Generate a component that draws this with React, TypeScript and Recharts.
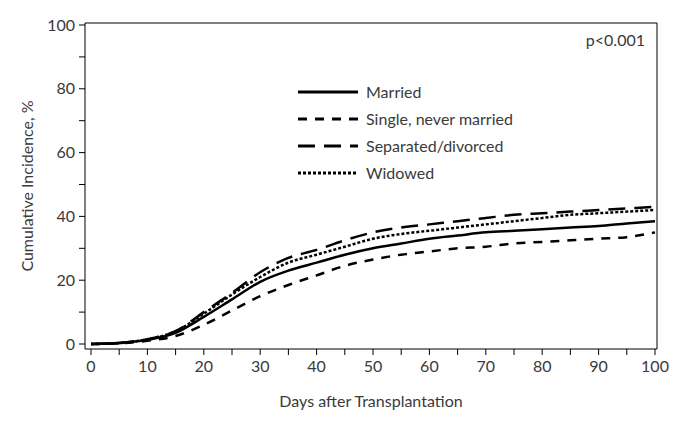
import { LineChart, Line, XAxis, YAxis, Legend, Label } from "recharts"

const days = [0, 5, 10, 15, 20, 25, 30, 35, 40, 45, 50, 55, 60, 65, 70, 75, 80, 85, 90, 95, 100]
const married = [0, 0.3, 1.3, 3.5, 8.5, 14, 19.5, 23, 25.5, 28, 30, 31.5, 33, 34, 35, 35.5, 36, 36.5, 37, 37.8, 38.5]
const single = [0, 0.2, 1, 2.5, 6, 10.5, 15, 18.5, 21.5, 24.5, 26.5, 28, 29, 30, 30.5, 31.5, 32, 32.5, 33, 33.5, 35]
const separated = [0, 0.3, 1.5, 4, 10, 16, 22.5, 27, 29.5, 32.5, 35, 36.5, 37.5, 38.5, 39.5, 40.5, 41, 41.5, 42, 42.5, 43]
const widowed = [0, 0.3, 1.5, 4, 9.5, 15.5, 21, 25.5, 28, 30.5, 33, 34.5, 35.5, 36.5, 37.5, 38.5, 39.5, 40.5, 41, 41.5, 42]

const xTicks = [0, 5, 10, 15, 20, 25, 30, 35, 40, 45, 50, 55, 60, 65, 70, 75, 80, 85, 90, 95, 100]
const yTicks = [0, 10, 20, 30, 40, 50, 60, 70, 80, 90, 100]

const data = days.map((d, i) => ({
  day: d,
  married: married[i],
  single: single[i],
  separated: separated[i],
  widowed: widowed[i],
}))

const series = [
  { key: "married", name: "Married", dash: undefined },
  { key: "single", name: "Single, never married", dash: "9 8" },
  { key: "separated", name: "Separated/divorced", dash: "17 9" },
  { key: "widowed", name: "Widowed", dash: "3 2" },
]

const font = "Lato, 'Open Sans', sans-serif"
const textColor = "#3a3a3a"

function LegendBox() {
  return (
    <div style={{ fontFamily: font, fontSize: 16, color: textColor }}>
      {series.map((s) => (
        <div key={s.key} style={{ display: "flex", alignItems: "center", height: 27 }}>
          <svg width={64} height={10}>
            <line x1={0} y1={5} x2={60} y2={5} stroke="#000" strokeWidth={3} strokeDasharray={s.dash} />
          </svg>
          <span style={{ marginLeft: 4 }}>{s.name}</span>
        </div>
      ))}
    </div>
  )
}

export default function App() {
  const tickStyle = { fontFamily: font, fontSize: 16, fill: textColor }
  return (
    <div style={{ position: "absolute", left: 0, top: 0, background: "#fff" }}>
      <LineChart width={687} height={423} data={data} margin={{ top: 22, right: 29, left: 0, bottom: 0 }}>
        <XAxis
          dataKey="day"
          type="number"
          domain={[0, 100]}
          ticks={xTicks}
          tickFormatter={(v: number) => (v % 10 === 0 ? String(v) : "")}
          padding={{ left: 6, right: 2 }}
          height={74}
          tickSize={6}
          tickMargin={6}
          stroke="#000"
          tick={tickStyle}
          interval={0}
        >
          <Label value="Days after Transplantation" position="insideBottom" offset={16} style={{ fontFamily: font, fontSize: 16, fill: textColor }} />
        </XAxis>
        <XAxis
          xAxisId="top"
          orientation="top"
          dataKey="day"
          type="number"
          domain={[0, 100]}
          ticks={[]}
          tick={false}
          tickLine={false}
          height={1}
          axisLine={{ stroke: "#000" }}
        />
        <YAxis
          type="number"
          domain={[0, 100]}
          ticks={yTicks}
          tickFormatter={(v: number) => (v % 20 === 0 ? String(v) : "")}
          padding={{ top: 2, bottom: 5 }}
          width={85}
          tickSize={6}
          tickMargin={4}
          stroke="#000"
          tick={tickStyle}
          interval={0}
        >
          <Label
            content={(props: any) => {
              const vb = props.viewBox
              const cx = vb.x + 26
              const cy = vb.y + vb.height / 2
              return (
                <text x={cx} y={cy} transform={`rotate(-90 ${cx} ${cy})`} textAnchor="middle" dominantBaseline="central" style={{ fontFamily: font, fontSize: 16, fill: textColor }}>
                  Cumulative Incidence, %
                </text>
              )
            }}
          />
        </YAxis>
        <YAxis
          yAxisId="right"
          orientation="right"
          type="number"
          domain={[0, 100]}
          ticks={[]}
          tick={false}
          tickLine={false}
          width={1}
          axisLine={{ stroke: "#000" }}
        />
        <Legend
          content={() => <LegendBox />}
          layout="vertical"
          align="center"
          verticalAlign="middle"
          wrapperStyle={{ position: "absolute", left: 298, top: 78, width: 280 }}
        />
        {series.map((s) => (
          <Line
            key={s.key}
            dataKey={s.key}
            name={s.name}
            type="monotone"
            stroke="#000"
            strokeWidth={2.5}
            strokeDasharray={s.dash}
            dot={false}
            isAnimationActive={false}
          />
        ))}
        <text x={645} y={46} textAnchor="end" style={{ fontFamily: font, fontSize: 16, fill: textColor }}>
          p&lt;0.001
        </text>
      </LineChart>
    </div>
  )
}
